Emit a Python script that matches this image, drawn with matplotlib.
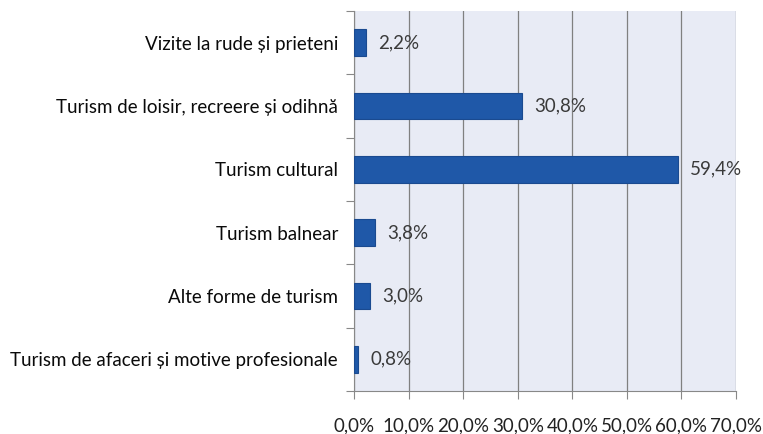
import matplotlib.pyplot as plt
import numpy as np

plt.rcParams['font.family'] = ['Lato', 'DejaVu Sans']

categories = ['Vizite la rude și prieteni',
              'Turism de loisir, recreere și odihnă',
              'Turism cultural',
              'Turism balnear',
              'Alte forme de turism',
              'Turism de afaceri și motive profesionale']
values = [2.2, 30.8, 59.4, 3.8, 3.0, 0.8]
xticks = [0, 10, 20, 30, 40, 50, 60, 70]

def fmt(v):
    return '{:.1f}%'.format(v).replace('.', ',')

fig = plt.figure(figsize=(7.63, 4.34), dpi=100)
ax = fig.add_axes([0.464, 0.099, 0.5006, 0.876])
ax.set_facecolor('#e8ebf5')

y = np.arange(len(categories))
ax.barh(y, values, height=0.42, color='#1f58a8', edgecolor='#1a4a90', linewidth=0.8, zorder=3)
for yi, v in zip(y, values):
    ax.text(v + 2.2, yi, fmt(v), va='center', ha='left', fontsize=13.5, color='#3a3a3a')

ax.set_xlim(0, 70)
ax.set_ylim(len(categories) - 0.5, -0.5)
ax.set_xticks(xticks)
ax.set_xticklabels([fmt(t) for t in xticks], fontsize=13.5, color='#222222')
ax.set_yticks(y)
ax.set_yticklabels(categories, fontsize=13.5, color='#0a0a0a')
ax.tick_params(axis='y', length=0, pad=11.5)
ax.set_yticks(np.arange(len(categories) + 1) - 0.5, minor=True)
ax.tick_params(axis='y', which='minor', length=6, color='#888888', width=0.8)
ax.tick_params(axis='x', length=6, color='#888888', width=0.8, pad=13)
ax.grid(axis='x', color='#808080', linewidth=0.9, zorder=1)
for s in ['top', 'right']:
    ax.spines[s].set_visible(False)
for s in ['left', 'bottom']:
    ax.spines[s].set_color('#888888')
    ax.spines[s].set_linewidth(0.8)

fig.savefig('out.png', dpi=100)
